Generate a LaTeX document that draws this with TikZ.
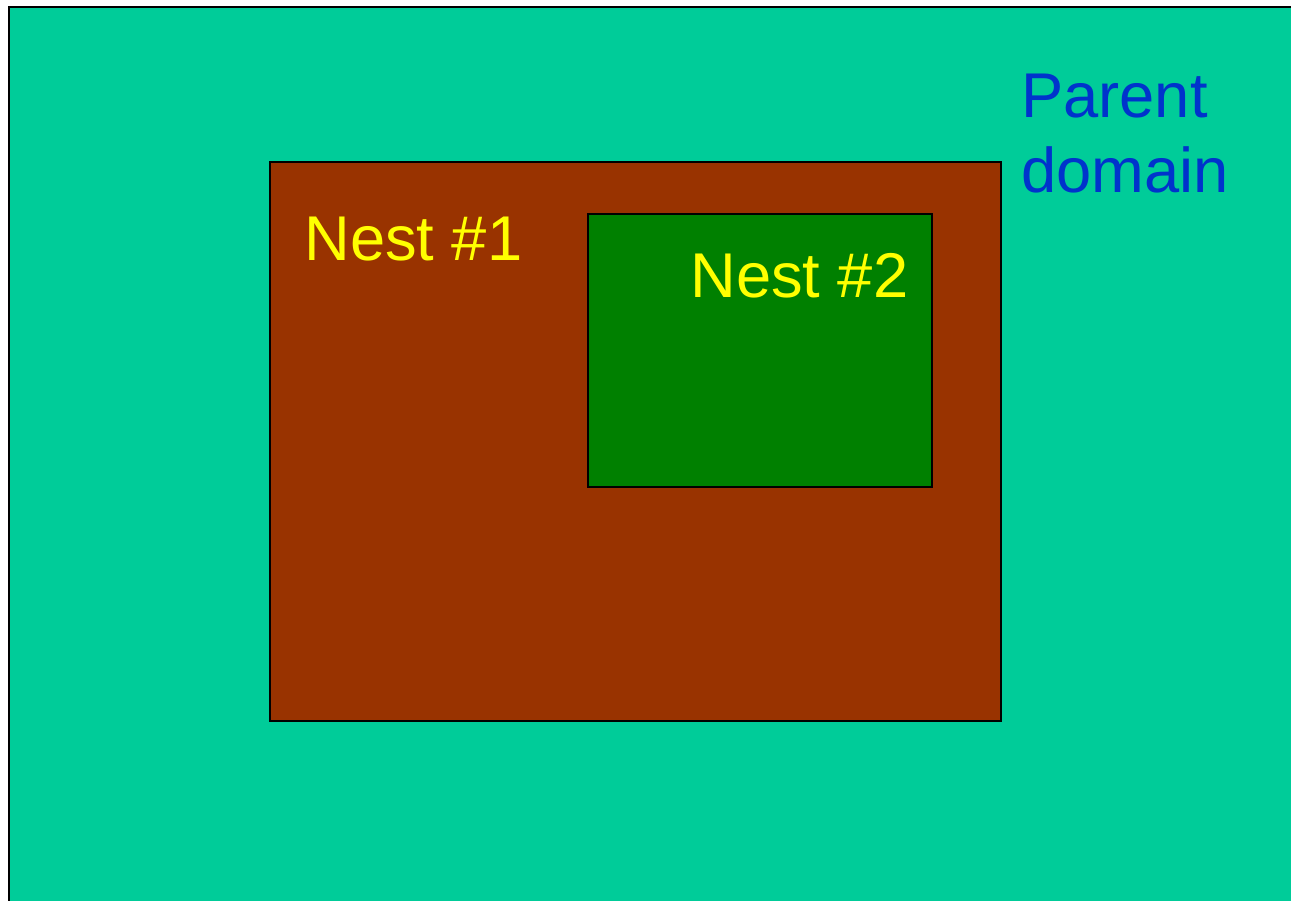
\documentclass[tikz,border=0pt]{standalone}
\usepackage{fontspec}
\setmainfont{Liberation Sans}
\definecolor{parentfill}{HTML}{00CC99}
\definecolor{nestonefill}{HTML}{993300}
\definecolor{nesttwofill}{HTML}{008000}
\definecolor{labelyellow}{HTML}{FFFF00}
\definecolor{labelblue}{HTML}{0033CC}
\begin{document}
\begin{tikzpicture}[x=0.02cm,y=-0.02cm,
  domainbox/.style={draw=black,line width=1.5pt},
  domainlabel/.style={inner sep=0pt,anchor=base west,align=left,
    font=\fontsize{36}{43.2}\selectfont}]
  \fill[white] (0,0) rectangle (1291,901);
  \clip (0,0) rectangle (1291,901);
  % parent domain (runs off the right and bottom)
  \draw[domainbox,fill=parentfill] (9,7) rectangle (1320,930);
  % nests
  \draw[domainbox,fill=nestonefill] (270,162) rectangle (1001,721);
  \draw[domainbox,fill=nesttwofill] (588,214) rectangle (932,487);
  % labels (base anchor of a two-line node sits on its last line)
  \node[domainlabel,text=labelblue] (parent) at (1021,193) {Parent\\domain};
  \node[domainlabel,text=labelyellow] (nest1) at (304,261) {Nest \#1};
  \node[domainlabel,text=labelyellow] (nest2) at (690,298) {Nest \#2};
\end{tikzpicture}
\end{document}
